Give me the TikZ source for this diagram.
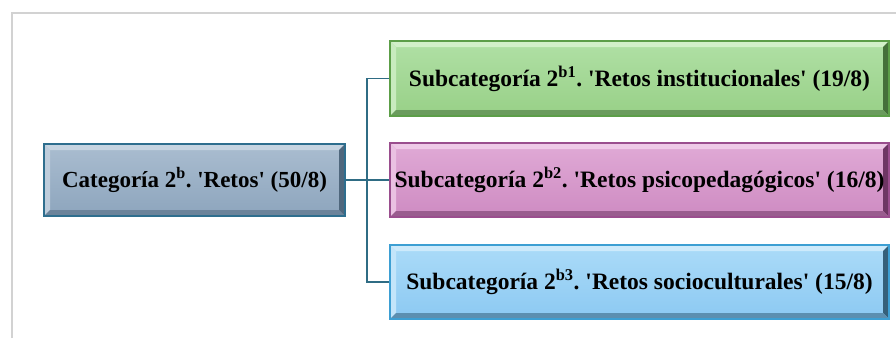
\documentclass[tikz,border=0pt]{standalone}
\usepackage{fontspec}
\setmainfont{Liberation Serif}[Ligatures=TeXOff]
\usetikzlibrary{calc}
\frenchspacing
\definecolor{conn}{HTML}{2F6C84}
\definecolor{framec}{HTML}{D2D2D2}
\definecolor{mainT}{HTML}{AABDD0}\definecolor{mainB}{HTML}{8DA5BD}
\definecolor{mainD}{HTML}{2E6E8E}\definecolor{mainL}{HTML}{C6D4E1}\definecolor{mainK}{HTML}{4F677D}
\definecolor{grnT}{HTML}{B0E0A5}\definecolor{grnB}{HTML}{98D087}
\definecolor{grnD}{HTML}{5C9E48}\definecolor{grnL}{HTML}{D2F0C9}\definecolor{grnK}{HTML}{45703A}
\definecolor{pnkT}{HTML}{E0AAD6}\definecolor{pnkB}{HTML}{CE8BC2}
\definecolor{pnkD}{HTML}{9A4E8E}\definecolor{pnkL}{HTML}{EECAE7}\definecolor{pnkK}{HTML}{6E3664}
\definecolor{bluT}{HTML}{ABDBF8}\definecolor{bluB}{HTML}{8CC9F2}
\definecolor{bluD}{HTML}{3D9FD3}\definecolor{bluL}{HTML}{CDEAFB}\definecolor{bluK}{HTML}{35607A}
\tikzset{
  bevbox/.style n args={5}{draw=#3, line width=1.4pt, top color=#1, bottom color=#2,
    font=\bfseries\fontsize{23.5}{26}\selectfont, text=black, inner sep=0pt,
    path picture={
      \coordinate (pnw) at (path picture bounding box.north west);
      \coordinate (pne) at (path picture bounding box.north east);
      \coordinate (psw) at (path picture bounding box.south west);
      \coordinate (pse) at (path picture bounding box.south east);
      \fill[#4] (pnw) -- (pne) -- ([xshift=-6pt,yshift=-6pt]pne) -- ([xshift=6pt,yshift=-6pt]pnw) -- cycle;
      \fill[#4!70!#1] (pnw) -- ([xshift=6pt,yshift=-6pt]pnw) -- ([xshift=6pt,yshift=6pt]psw) -- (psw) -- cycle;
      \fill[#5] (pne) -- (pse) -- ([xshift=-6pt,yshift=6pt]pse) -- ([xshift=-6pt,yshift=-6pt]pne) -- cycle;
      \fill[#5!55!#2] (psw) -- (pse) -- ([xshift=-6pt,yshift=6pt]pse) -- ([xshift=6pt,yshift=6pt]psw) -- cycle;
    }},
  connector/.style={draw=conn, line width=1.8pt}
}
\begin{document}
\begin{tikzpicture}[x=1pt,y=-1pt]
\useasboundingbox (0,0) rectangle (896,338);
\draw[framec, line width=2pt] (11.5,338) -- (11.5,12.5) -- (896,12.5);
\node[bevbox={mainT}{mainB}{mainD}{mainL}{mainK}, minimum width=301pt, minimum height=72pt,
  font=\bfseries\fontsize{23}{26}\selectfont] (main) at (194.5,180)
  {Categoría 2\textsuperscript{b}. 'Retos' (50/8)};
\node[bevbox={grnT}{grnB}{grnD}{grnL}{grnK}, minimum width=499pt, minimum height=75pt] (s1) at (639.5,78.5)
  {Subcategoría 2\textsuperscript{b1}. 'Retos institucionales' (19/8)};
\node[bevbox={pnkT}{pnkB}{pnkD}{pnkL}{pnkK}, minimum width=499pt, minimum height=74pt] (s2) at (639.5,180)
  {Subcategoría 2\textsuperscript{b2}. 'Retos psicopedagógicos' (16/8)};
\node[bevbox={bluT}{bluB}{bluD}{bluL}{bluK}, minimum width=499pt, minimum height=74pt] (s3) at (639.5,282)
  {Subcategoría 2\textsuperscript{b3}. 'Retos socioculturales' (15/8)};
\coordinate (j) at (367,180);
\draw[connector] (main.east) -- (s2.west);
\draw[connector] (s1.west) -| (j) |- (s3.west);
\end{tikzpicture}
\end{document}
